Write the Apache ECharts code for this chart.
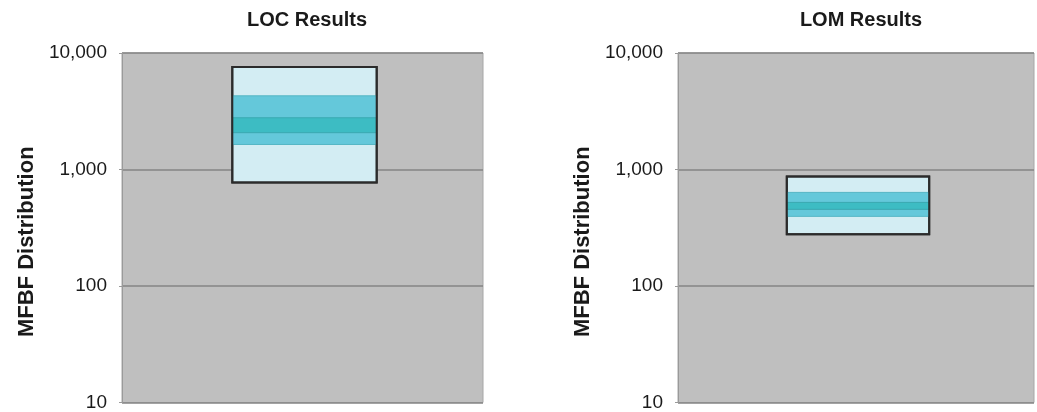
<!DOCTYPE html>
<html>
<head>
<meta charset="utf-8">
<script src="https://cdn.jsdelivr.net/npm/echarts@6/dist/echarts.min.js"></script>
<style>
html,body{margin:0;padding:0;background:#fff;}
#chart{width:1037px;height:412px;}
</style>
</head>
<body>
<div id="chart"></div>
<script>
// ---- data ----
const panelTitles = ['LOC Results', 'LOM Results'];
const categories = [''];
const yAxisName = 'MFBF Distribution';
const yTickValues = [10, 100, 1000, 10000];
// [low, high] of each band, one entry per panel (LOC, LOM)
const outerBand = [[774, 7600], [278, 871]];
const middleBand = [[1640, 4290], [396, 636]];
const innerBand = [[2070, 2780], [455, 522]];

// ---- rendering ----
const chart = echarts.init(document.getElementById('chart'), null, {renderer: 'canvas'});
const FONT = "'Liberation Sans', Arial, sans-serif";
const grids = [
  {left: 122, right: 554, top: 53, bottom: 7},
  {left: 678, right: 3, top: 53, bottom: 7}
];
const centers = [302, 856];
const BOX_FRACTION = 0.40;

function bandSeries(panel, range, fill, stroke, lineWidth, z) {
  return {
    type: 'custom',
    xAxisIndex: panel,
    yAxisIndex: panel,
    z: z,
    encode: {x: 0, y: [1, 2]},
    data: [[0, range[panel][0], range[panel][1]]],
    renderItem: function (params, api) {
      const x = api.value(0);
      const lo = api.coord([x, api.value(1)]);
      const hi = api.coord([x, api.value(2)]);
      const w = api.size([1, 0])[0] * BOX_FRACTION;
      return {
        type: 'rect',
        shape: {x: lo[0] - w / 2 + 2, y: hi[1], width: w, height: lo[1] - hi[1]},
        style: {fill: fill, stroke: stroke, lineWidth: lineWidth}
      };
    }
  };
}

const option = {
  backgroundColor: '#ffffff',
  animation: false,
  title: panelTitles.map((t, i) => ({
    text: t,
    left: centers[i],
    textAlign: 'center',
    top: 5,
    textStyle: {fontFamily: FONT, fontSize: 20, fontWeight: 'bold', color: '#1a1a1a'}
  })),
  grid: grids.map(g => Object.assign({
    show: true,
    backgroundColor: '#bfbfbf',
    borderColor: '#a6a6a6',
    borderWidth: 1
  }, g)),
  xAxis: [0, 1].map(i => ({
    type: 'category',
    gridIndex: i,
    data: categories,
    axisLine: {show: false},
    axisTick: {show: false},
    axisLabel: {show: false},
    splitLine: {show: false}
  })),
  yAxis: [0, 1].map(i => ({
    type: 'log',
    logBase: 10,
    gridIndex: i,
    min: yTickValues[0],
    max: yTickValues[yTickValues.length - 1],
    name: yAxisName,
    nameLocation: 'middle',
    nameGap: 84,
    nameRotate: 90,
    nameTextStyle: {fontFamily: FONT, fontSize: 22, fontWeight: 'bold', color: '#1a1a1a', padding: [0, 28, 0, 0]},
    axisLine: {show: true, lineStyle: {color: '#9a9a9a', width: 1}},
    axisTick: {show: true, length: 3, lineStyle: {color: '#9a9a9a'}},
    axisLabel: {
      fontFamily: FONT, fontSize: 19, color: '#1a1a1a', margin: 15,
      formatter: v => Number(v).toLocaleString('en-US')
    },
    minorTick: {show: false},
    splitLine: {show: true, lineStyle: {color: '#858585', width: 1.5}}
  })),
  series: [0, 1].flatMap(p => [
    bandSeries(p, outerBand, '#d3edf3', '#2b2b2b', 2, 2),
    bandSeries(p, middleBand, '#64c8da', '#55b6c4', 1, 3),
    bandSeries(p, innerBand, '#3dbcc3', '#3aa8b0', 1, 4),
    bandSeries(p, outerBand, 'transparent', '#2b2b2b', 2, 5)
  ])
};
chart.setOption(option);
</script>
</body>
</html>
